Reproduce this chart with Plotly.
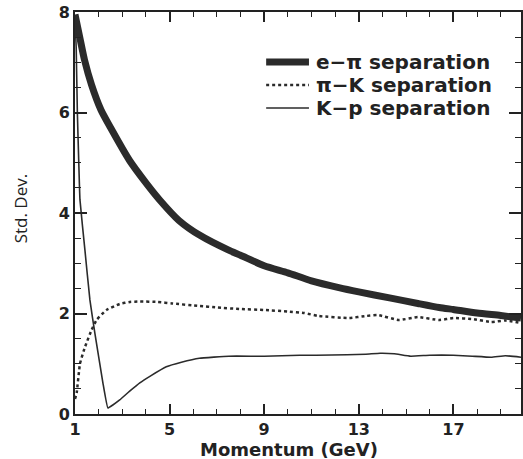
import plotly.graph_objects as go

# Momentum (GeV) and separation power (standard deviations) for each particle pair
p_epi = [1.0, 1.2, 1.4, 1.7, 2.1, 2.5, 3.3, 4.0, 4.6, 5.4, 6.3, 7.5, 8.0, 9.0, 10.0,
         11.0, 12.2, 13.0, 14.3, 15.5, 16.4, 17.0, 18.0, 19.0, 19.86]
sep_epi = [7.95, 7.5, 7.05, 6.55, 6.05, 5.7, 5.05, 4.6, 4.25, 3.85, 3.55, 3.26, 3.16, 2.95, 2.81,
           2.65, 2.51, 2.43, 2.31, 2.2, 2.12, 2.08, 2.01, 1.96, 1.91]

p_pik = [1.0, 1.07, 1.21, 1.42, 1.7, 1.91, 2.33, 2.89, 3.32, 3.74, 4.5, 5.1, 6.26, 7.0, 7.95,
         9.0, 10.0, 10.7, 11.3, 12.6, 13.3, 13.8, 14.7, 15.5, 16.4, 17.0, 17.8, 18.6, 19.2, 19.86]
sep_pik = [0.3, 0.42, 1.0, 1.33, 1.67, 1.87, 2.07, 2.19, 2.23, 2.24, 2.23, 2.2, 2.15, 2.12, 2.09,
           2.07, 2.04, 2.01, 1.95, 1.91, 1.95, 1.97, 1.87, 1.93, 1.87, 1.91, 1.89, 1.83, 1.86, 1.81]

p_kp = [1.0, 1.05, 1.1, 1.16, 1.21, 1.42, 1.63, 1.84, 2.18, 2.39, 2.6, 2.89, 3.3, 3.74, 4.2,
        4.86, 5.5, 6.26, 7.5, 9.0, 10.5, 11.2, 12.5, 13.3, 13.9, 14.5, 15.2, 16.0, 17.0, 17.8,
        18.6, 19.2, 19.86]
sep_kp = [7.9, 7.3, 6.0, 5.0, 4.26, 3.26, 2.27, 1.61, 0.62, 0.12, 0.18, 0.28, 0.45, 0.62, 0.76,
          0.94, 1.03, 1.11, 1.15, 1.15, 1.17, 1.17, 1.18, 1.19, 1.21, 1.2, 1.15, 1.17, 1.17, 1.15,
          1.13, 1.16, 1.13]

series_names = ["e\u2212\u03c0 separation", "\u03c0\u2212K separation", "K\u2212p separation"]

# Axis extents and tick values
x_range = [1, 19.86]
y_range = [0, 8]
x_ticks = [1, 5, 9, 13, 17]
y_ticks = [0, 2, 4, 6, 8]
x_minor_step = 1
y_minor_step = 0.5

INK = "#222222"
LINE = "#2b2b2b"
FONT = "DejaVu Sans"

styles = [
    dict(color=LINE, width=7, shape="spline", smoothing=0.6),
    dict(color=LINE, width=2.5, dash="dot", shape="spline", smoothing=0.4),
    dict(color=LINE, width=1.6, shape="spline", smoothing=0.3),
]

fig = go.Figure()
for xs, ys, name, st in zip([p_epi, p_pik, p_kp], [sep_epi, sep_pik, sep_kp], series_names, styles):
    fig.add_trace(go.Scatter(x=xs, y=ys, mode="lines", name=name, line=st, showlegend=False))

# Key in the upper right: short line sample followed by the series name
key_x0, key_x1, key_text_x = 0.4286, 0.5246, 0.5357
key_rows = [0.8756, 0.8184, 0.7612]
for name, st, yk in zip(series_names, styles, key_rows):
    fig.add_shape(type="line", xref="paper", yref="paper", x0=key_x0, x1=key_x1, y0=yk, y1=yk,
                  line=dict(color=st["color"], width=st["width"], dash=st.get("dash", "solid")))
    fig.add_annotation(xref="paper", yref="paper", x=key_text_x, y=yk, text=name,
                       showarrow=False, xanchor="left", yanchor="middle",
                       font=dict(family=FONT, size=20, color=INK, weight="bold"))

# Axis titles
fig.add_annotation(xref="paper", yref="paper", x=0.48, y=-0.088, text="Momentum (GeV)",
                   showarrow=False, xanchor="center", yanchor="middle",
                   font=dict(family=FONT, size=18, color=INK, weight="bold"))
fig.add_annotation(xref="paper", yref="paper", x=-0.123, y=0.512, text="Std. Dev.",
                   showarrow=False, xanchor="center", yanchor="middle", textangle=-90,
                   font=dict(family="Open Sans", size=17, color=INK))

axis_common = dict(
    showline=True, linecolor=INK, linewidth=2, mirror="allticks",
    showgrid=False, zeroline=False,
    ticks="inside", tickcolor=INK, tickwidth=1.6,
    tickfont=dict(family=FONT, size=16, color=INK, weight="bold"),
)

fig.update_layout(
    width=523, height=459,
    margin=dict(l=75, r=0, t=12, b=45),
    plot_bgcolor="white",
    xaxis=dict(axis_common, range=x_range, tickmode="array", tickvals=x_ticks,
               ticktext=[str(v) for v in x_ticks], ticklen=10,
               minor=dict(dtick=x_minor_step, ticks="inside", ticklen=5,
                          tickwidth=1.4, tickcolor=INK)),
    yaxis=dict(axis_common, range=y_range, tickmode="array", tickvals=y_ticks,
               ticktext=[str(v) for v in y_ticks], ticklen=12,
               minor=dict(dtick=y_minor_step, ticks="inside", ticklen=6,
                          tickwidth=1.4, tickcolor=INK)),
)

fig.write_html("out.html")
